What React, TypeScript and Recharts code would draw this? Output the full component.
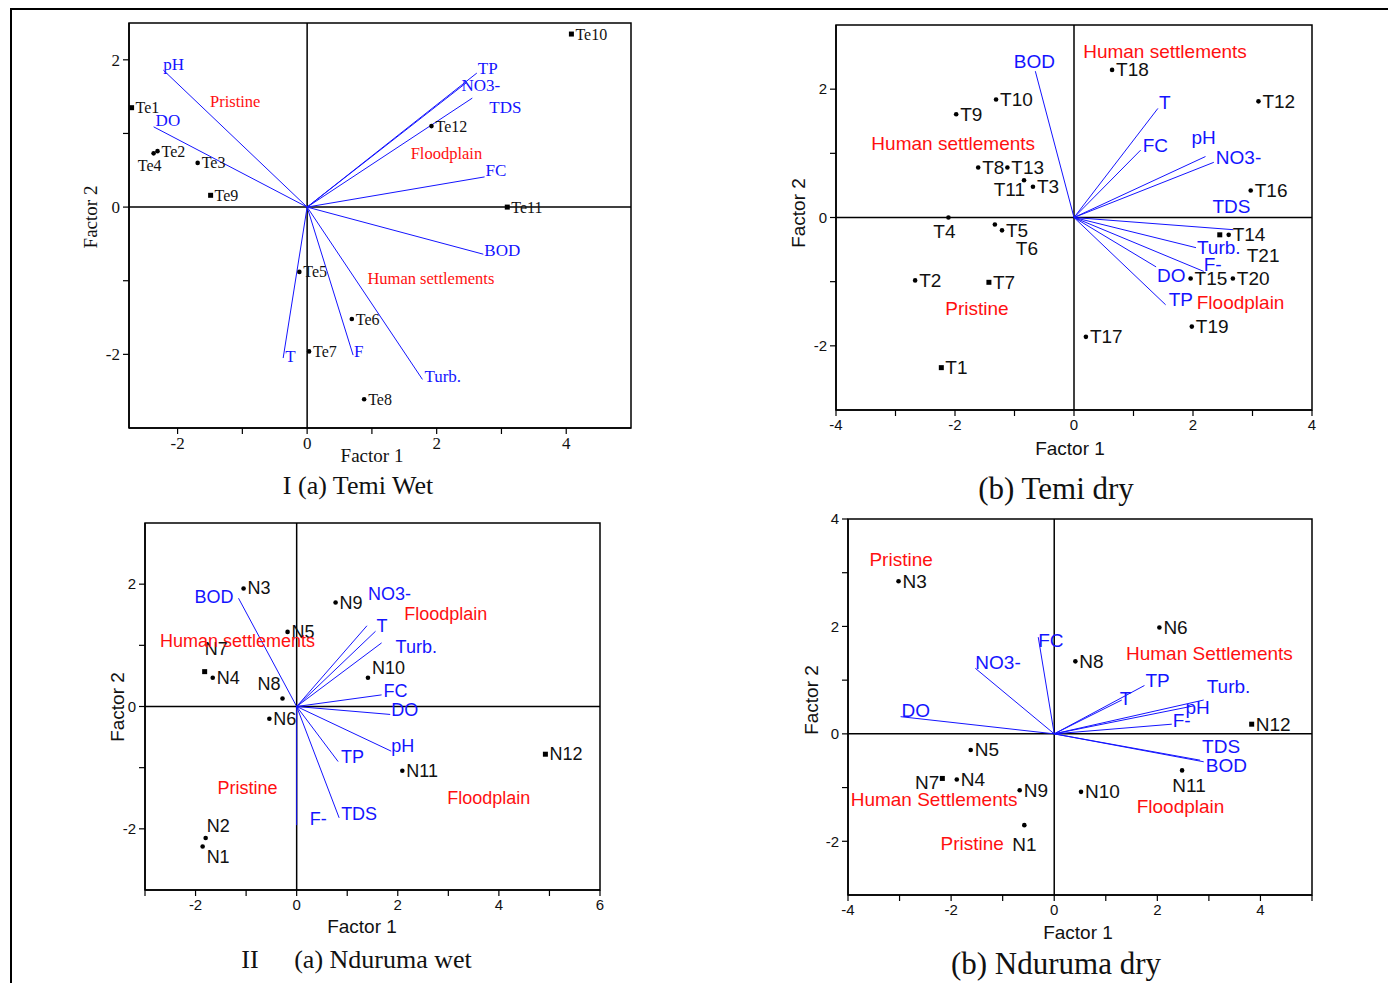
import React from 'react';
import { ScatterChart, Scatter, XAxis, YAxis, ReferenceLine, ReferenceArea } from 'recharts';

type Site = { name: string; x: number; y: number };

// ---------- I (a) Temi Wet ----------
const temiWetSites: Site[] = [
  { name: 'Te1', x: -2.71, y: 1.35 },
  { name: 'Te2', x: -2.31, y: 0.76 },
  { name: 'Te3', x: -1.69, y: 0.6 },
  { name: 'Te4', x: -2.37, y: 0.73 },
  { name: 'Te5', x: -0.12, y: -0.88 },
  { name: 'Te6', x: 0.69, y: -1.52 },
  { name: 'Te7', x: 0.03, y: -1.96 },
  { name: 'Te8', x: 0.88, y: -2.61 },
  { name: 'Te9', x: -1.49, y: 0.16 },
  { name: 'Te10', x: 4.08, y: 2.35 },
  { name: 'Te11', x: 3.09, y: 0.0 },
  { name: 'Te12', x: 1.92, y: 1.1 },
];
const temiWetVectors: Site[] = [
  { name: 'pH', x: -2.22, y: 1.86 },
  { name: 'DO', x: -2.37, y: 1.09 },
  { name: 'TP', x: 2.62, y: 1.82 },
  { name: 'NO3-', x: 2.46, y: 1.69 },
  { name: 'TDS', x: 2.55, y: 1.48 },
  { name: 'FC', x: 2.74, y: 0.41 },
  { name: 'BOD', x: 2.72, y: -0.64 },
  { name: 'Turb.', x: 1.78, y: -2.34 },
  { name: 'F', x: 0.71, y: -2.01 },
  { name: 'T', x: -0.37, y: -2.05 },
];
const temiWetGroups: Site[] = [
  { name: 'Pristine', x: -1.11, y: 1.44 },
  { name: 'Floodplain', x: 2.15, y: 0.73 },
  { name: 'Human settlements', x: 1.91, y: -0.97 },
];
const temiWetXTicks = [-2, -1, 0, 1, 2, 3, 4];
const temiWetYTicks = [-2, -1, 0, 1, 2];
const temiWetTopTicks = [-1.75, 1.74, 3.46];
const temiWetRightTicks = [1.35, -1.36, -2.72];

// ---------- I (b) Temi dry ----------
const temiDrySites: Site[] = [
  { name: 'T1', x: -2.23, y: -2.34 },
  { name: 'T2', x: -2.67, y: -0.98 },
  { name: 'T3', x: -0.69, y: 0.48 },
  { name: 'T4', x: -2.11, y: 0.0 },
  { name: 'T5', x: -1.21, y: -0.2 },
  { name: 'T6', x: -1.33, y: -0.11 },
  { name: 'T7', x: -1.43, y: -1.01 },
  { name: 'T8', x: -1.61, y: 0.78 },
  { name: 'T9', x: -1.98, y: 1.61 },
  { name: 'T10', x: -1.31, y: 1.84 },
  { name: 'T11', x: -0.84, y: 0.58 },
  { name: 'T12', x: 3.1, y: 1.81 },
  { name: 'T13', x: -1.12, y: 0.78 },
  { name: 'T14', x: 2.6, y: -0.27 },
  { name: 'T15', x: 1.96, y: -0.95 },
  { name: 'T16', x: 2.97, y: 0.42 },
  { name: 'T17', x: 0.2, y: -1.86 },
  { name: 'T18', x: 0.64, y: 2.3 },
  { name: 'T19', x: 1.98, y: -1.7 },
  { name: 'T20', x: 2.67, y: -0.95 },
  { name: 'T21', x: 2.45, y: -0.27 },
];
const temiDryVectors: Site[] = [
  { name: 'BOD', x: -0.65, y: 2.28 },
  { name: 'T', x: 1.41, y: 1.7 },
  { name: 'FC', x: 1.12, y: 1.05 },
  { name: 'pH', x: 2.21, y: 0.95 },
  { name: 'NO3-', x: 2.35, y: 0.86 },
  { name: 'TDS', x: 2.68, y: -0.19 },
  { name: 'Turb.', x: 2.05, y: -0.47 },
  { name: 'F-', x: 2.18, y: -0.84 },
  { name: 'DO', x: 1.38, y: -0.77 },
  { name: 'TP', x: 1.54, y: -1.36 },
];
const temiDryGroups: Site[] = [
  { name: 'Human settlements', x: 1.53, y: 2.59 },
  { name: 'Human settlements', x: -2.03, y: 1.16 },
  { name: 'Pristine', x: -1.63, y: -1.42 },
  { name: 'Floodplain', x: 2.8, y: -1.33 },
];
const temiDryXTicks = [-4, -3, -2, -1, 0, 1, 2, 3, 4];
const temiDryYTicks = [-2, -1, 0, 1, 2];
const temiDryTopTicks = [-2.94, 1.46, 2.94];
const temiDryRightTicks = [1.91, 0.94, -0.97, -1.91, -2.84];

// ---------- II (a) Nduruma wet ----------
const ndurumaWetSites: Site[] = [
  { name: 'N1', x: -1.86, y: -2.29 },
  { name: 'N2', x: -1.8, y: -2.15 },
  { name: 'N3', x: -1.05, y: 1.93 },
  { name: 'N4', x: -1.66, y: 0.47 },
  { name: 'N5', x: -0.18, y: 1.22 },
  { name: 'N6', x: -0.54, y: -0.2 },
  { name: 'N7', x: -1.82, y: 0.57 },
  { name: 'N8', x: -0.28, y: 0.13 },
  { name: 'N9', x: 0.77, y: 1.7 },
  { name: 'N10', x: 1.41, y: 0.47 },
  { name: 'N11', x: 2.09, y: -1.05 },
  { name: 'N12', x: 4.92, y: -0.78 },
];
const ndurumaWetVectors: Site[] = [
  { name: 'BOD', x: -1.15, y: 1.77 },
  { name: 'NO3-', x: 1.39, y: 1.32 },
  { name: 'T', x: 1.56, y: 1.23 },
  { name: 'Turb.', x: 1.68, y: 1.04 },
  { name: 'FC', x: 1.68, y: 0.19 },
  { name: 'DO', x: 1.85, y: -0.13 },
  { name: 'pH', x: 1.87, y: -0.73 },
  { name: 'TP', x: 0.82, y: -0.9 },
  { name: 'TDS', x: 0.84, y: -1.82 },
  { name: 'F-', x: 0.0, y: -1.94 },
];
const ndurumaWetGroups: Site[] = [
  { name: 'Floodplain', x: 2.95, y: 1.51 },
  { name: 'Human settlements', x: -1.17, y: 1.07 },
  { name: 'Pristine', x: -0.97, y: -1.33 },
  { name: 'Floodplain', x: 3.8, y: -1.49 },
];
const ndurumaWetXTicks = [-3, -2, -1, 0, 1, 2, 3, 4, 5, 6];
const ndurumaWetYTicks = [-2, -1, 0, 1, 2];
const ndurumaWetTopTicks = [-2.2];
const ndurumaWetRightTicks = [2, 1, -1, -2];

// ---------- II (b) Nduruma dry ----------
const ndurumaDrySites: Site[] = [
  { name: 'N1', x: -0.58, y: -1.7 },
  { name: 'N3', x: -3.02, y: 2.84 },
  { name: 'N4', x: -1.89, y: -0.85 },
  { name: 'N5', x: -1.62, y: -0.3 },
  { name: 'N6', x: 2.04, y: 1.98 },
  { name: 'N7', x: -2.17, y: -0.83 },
  { name: 'N8', x: 0.41, y: 1.35 },
  { name: 'N9', x: -0.67, y: -1.05 },
  { name: 'N10', x: 0.52, y: -1.08 },
  { name: 'N11', x: 2.48, y: -0.68 },
  { name: 'N12', x: 3.83, y: 0.18 },
];
const ndurumaDryVectors: Site[] = [
  { name: 'FC', x: -0.31, y: 1.8 },
  { name: 'NO3-', x: -1.53, y: 1.22 },
  { name: 'DO', x: -2.98, y: 0.32 },
  { name: 'TP', x: 1.75, y: 0.9 },
  { name: 'T', x: 1.31, y: 0.63 },
  { name: 'pH', x: 2.7, y: 0.52 },
  { name: 'Turb.', x: 2.9, y: 0.63 },
  { name: 'F-', x: 2.28, y: 0.18 },
  { name: 'TDS', x: 2.83, y: -0.49 },
  { name: 'BOD', x: 2.9, y: -0.52 },
];
const ndurumaDryGroups: Site[] = [
  { name: 'Pristine', x: -2.97, y: 3.25 },
  { name: 'Human Settlements', x: 3.01, y: 1.5 },
  { name: 'Human Settlements', x: -2.33, y: -1.23 },
  { name: 'Floodplain', x: 2.45, y: -1.35 },
  { name: 'Pristine', x: -1.59, y: -2.04 },
];
const ndurumaDryXTicks = [-4, -3, -2, -1, 0, 1, 2, 3, 4, 5];
const ndurumaDryYTicks = [-2, -1, 0, 1, 2, 3, 4];
const ndurumaDryTopTicks: number[] = [];
const ndurumaDryRightTicks = [3.5, 1.74, 0.84, -1.76, -2.64];

// ---------- label placement (pixel offsets, kept apart from the data) ----------
type Off = [number, number, 'start' | 'middle' | 'end'];
const twSiteOff: Record<string, Off> = { Te4: [-4, 12, 'middle'] };
const twVecOff: Record<string, Off> = {
  pH: [0, -6, 'start'], DO: [2, -6, 'start'], TP: [1, -5, 'start'], 'NO3-': [-5, 3, 'start'],
  TDS: [17, 9, 'start'], FC: [1, -6, 'start'], BOD: [1, -4, 'start'], 'Turb.': [2, -3, 'start'],
  F: [1, -4, 'start'], T: [2, -2, 'start'],
};
const tdSiteOff: Record<string, Off> = {
  T4: [-4, 14, 'middle'], T6: [21, 24, 'start'], T11: [1, 9, 'end'], T21: [27, 21, 'start'],
};
const tdVecOff: Record<string, Off> = {
  BOD: [-1, -10, 'middle'], T: [1, -6, 'start'], FC: [2, -5, 'start'], pH: [-14, -19, 'start'],
  'NO3-': [2, -5, 'start'], TDS: [-21, -23, 'start'], 'Turb.': [1, 0, 'start'], 'F-': [0, -7, 'start'],
  DO: [1, 9, 'start'], TP: [3, -5, 'start'],
};
const nwSiteOff: Record<string, Off> = {
  N2: [1, -12, 'start'], N1: [4, 10, 'start'], N8: [-2, -15, 'end'], N7: [0, -23, 'start'], N10: [4, -10, 'start'],
};
const nwVecOff: Record<string, Off> = {
  BOD: [-5, -1, 'end'], 'NO3-': [1, -32, 'start'], T: [1, -5, 'start'], 'Turb.': [14, 4, 'start'],
  FC: [2, -4, 'start'], DO: [1, -4, 'start'], pH: [0, -5, 'start'], TP: [3, -5, 'start'],
  TDS: [2, -4, 'start'], 'F-': [13, -6, 'start'],
};
const ndSiteOff: Record<string, Off> = {
  N7: [-3, 4, 'end'], N11: [7, 15, 'middle'], N1: [0, 19, 'middle'],
};
const ndVecOff: Record<string, Off> = {
  FC: [0, 3, 'start'], 'NO3-': [0, -6, 'start'], DO: [1, -6, 'start'], TP: [1, -5, 'start'],
  T: [-2, -2, 'start'], pH: [-8, 2, 'start'], 'Turb.': [3, -14, 'start'], 'F-': [1, -4, 'start'],
  TDS: [2, -14, 'start'], BOD: [2, 4, 'start'],
};
const squareMarkers = new Set(['Te1', 'Te9', 'Te10', 'Te11', 'T1', 'T7', 'T21', 'N7', 'N12']);

const SERIF = "'Liberation Serif', 'Times New Roman', serif";
const SANS = "'Liberation Sans', Arial, sans-serif";
const BLUE = '#1414ff';
const RED = '#ff1010';

type Cfg = {
  id: string;
  plot: { x: number; y: number; w: number; h: number };
  xDomain: [number, number];
  yDomain: [number, number];
  xTicks: number[];
  yTicks: number[];
  xLabels: number[];
  yLabels: number[];
  topTicks: number[];
  rightTicks: number[];
  sites: Site[];
  vectors: Site[];
  groups: Site[];
  family: string;
  tickFs: number;
  siteFs: number;
  vecFs: number;
  grpFs: number;
  siteOff: Record<string, Off>;
  vecOff: Record<string, Off>;
};

function Panel({ c }: { c: Cfg }) {
  const ML = 40, MT = 12, MR = 5, XH = 30;
  const W = ML + c.plot.w + MR;
  const H = MT + c.plot.h + XH;
  const tickStyle = { fontSize: c.tickFs, fill: '#111', fontFamily: c.family };
  const siteShape = (p: any) => {
    const { cx, cy, payload } = p;
    const o: Off = c.siteOff[payload.name] || [4, 0, 'start'];
    const sq = squareMarkers.has(payload.name);
    return (
      <g>
        {sq ? (
          <rect x={cx - 2.5} y={cy - 2.5} width={5} height={5} fill="#000" />
        ) : (
          <circle cx={cx} cy={cy} r={2.3} fill="#000" />
        )}
        <text
          x={cx + o[0]}
          y={cy + o[1]}
          textAnchor={o[2]}
          dominantBaseline="central"
          fontSize={c.siteFs}
          fontFamily={c.family}
          fill="#111"
        >
          {payload.name}
        </text>
      </g>
    );
  };
  const vecShape = (p: any) => {
    const { cx, cy, payload } = p;
    if (!payload.name) return <g />;
    const o: Off = c.vecOff[payload.name] || [2, -4, 'start'];
    return (
      <text
        x={cx + o[0]}
        y={cy + o[1]}
        textAnchor={o[2]}
        dominantBaseline="central"
        fontSize={c.vecFs}
        fontFamily={c.family}
        fill={BLUE}
      >
        {payload.name}
      </text>
    );
  };
  const grpShape = (p: any) => {
    const { cx, cy, payload } = p;
    return (
      <text
        x={cx}
        y={cy}
        textAnchor="middle"
        dominantBaseline="central"
        fontSize={c.grpFs}
        fontFamily={c.family}
        fill={RED}
      >
        {payload.name}
      </text>
    );
  };
  return (
    <div style={{ position: 'absolute', left: c.plot.x - ML, top: c.plot.y - MT }}>
      <ScatterChart width={W} height={H} margin={{ top: MT, right: MR, bottom: 0, left: 0 }}>
        <XAxis
          type="number"
          dataKey="x"
          domain={c.xDomain}
          ticks={c.xTicks}
          interval={0}
          height={XH}
          tickSize={6}
          tickMargin={3}
          tick={tickStyle}
          tickFormatter={(v: number) => (c.xLabels.includes(v) ? String(v) : '')}
          axisLine={{ stroke: '#000', strokeWidth: 1.5 }}
          tickLine={{ stroke: '#000', strokeWidth: 1.2 }}
        />
        <YAxis
          type="number"
          dataKey="y"
          domain={c.yDomain}
          ticks={c.yTicks}
          interval={0}
          width={ML}
          tickSize={6}
          tickMargin={3}
          tick={tickStyle}
          tickFormatter={(v: number) => (c.yLabels.includes(v) ? String(v) : '')}
          axisLine={{ stroke: '#000', strokeWidth: 1.5 }}
          tickLine={{ stroke: '#000', strokeWidth: 1.2 }}
        />
        <XAxis
          xAxisId="top"
          orientation="top"
          mirror
          type="number"
          domain={c.xDomain}
          ticks={c.topTicks}
          interval={0}
          height={0}
          tickSize={6}
          tick={false}
          axisLine={false}
          tickLine={{ stroke: '#000', strokeWidth: 1.2 }}
        />
        <YAxis
          yAxisId="right"
          orientation="right"
          mirror
          type="number"
          domain={c.yDomain}
          ticks={c.rightTicks}
          interval={0}
          width={0}
          tickSize={6}
          tick={false}
          axisLine={false}
          tickLine={{ stroke: '#000', strokeWidth: 1.2 }}
        />
        <ReferenceArea
          x1={c.xDomain[0]}
          x2={c.xDomain[1]}
          y1={c.yDomain[0]}
          y2={c.yDomain[1]}
          fill="none"
          fillOpacity={0}
          stroke="#000"
          strokeWidth={1.5}
        />
        <ReferenceLine x={0} stroke="#000" strokeWidth={1.5} />
        <ReferenceLine y={0} stroke="#000" strokeWidth={1.5} />
        {c.vectors.map((v, i) => (
          <Scatter
            key={c.id + 'v' + i}
            data={[{ x: 0, y: 0, name: '' }, v]}
            fill={BLUE}
            line={{ stroke: BLUE, strokeWidth: 1 }}
            shape={vecShape}
            isAnimationActive={false}
          />
        ))}
        <Scatter data={c.sites} fill="#000" shape={siteShape} isAnimationActive={false} />
        <Scatter data={c.groups} fill={RED} shape={grpShape} isAnimationActive={false} />
      </ScatterChart>
    </div>
  );
}

const panels: Cfg[] = [
  {
    id: 'tw', plot: { x: 129, y: 23, w: 502, h: 405 }, xDomain: [-2.75, 5], yDomain: [-3, 2.5],
    xTicks: temiWetXTicks, yTicks: temiWetYTicks, xLabels: [-2, 0, 2, 4], yLabels: [-2, 0, 2],
    topTicks: temiWetTopTicks, rightTicks: temiWetRightTicks,
    sites: temiWetSites, vectors: temiWetVectors, groups: temiWetGroups,
    family: SERIF, tickFs: 17, siteFs: 16, vecFs: 17, grpFs: 16.5,
    siteOff: twSiteOff, vecOff: twVecOff,
  },
  {
    id: 'td', plot: { x: 836, y: 25, w: 476, h: 385 }, xDomain: [-4, 4], yDomain: [-3, 3],
    xTicks: temiDryXTicks, yTicks: temiDryYTicks, xLabels: [-4, -2, 0, 2, 4], yLabels: [-2, 0, 2],
    topTicks: temiDryTopTicks, rightTicks: temiDryRightTicks,
    sites: temiDrySites, vectors: temiDryVectors, groups: temiDryGroups,
    family: SANS, tickFs: 15, siteFs: 19, vecFs: 19, grpFs: 19,
    siteOff: tdSiteOff, vecOff: tdVecOff,
  },
  {
    id: 'nw', plot: { x: 145, y: 523, w: 455, h: 367 }, xDomain: [-3, 6], yDomain: [-3, 3],
    xTicks: ndurumaWetXTicks, yTicks: ndurumaWetYTicks, xLabels: [-2, 0, 2, 4, 6], yLabels: [-2, 0, 2],
    topTicks: ndurumaWetTopTicks, rightTicks: ndurumaWetRightTicks,
    sites: ndurumaWetSites, vectors: ndurumaWetVectors, groups: ndurumaWetGroups,
    family: SANS, tickFs: 15, siteFs: 18, vecFs: 18, grpFs: 18,
    siteOff: nwSiteOff, vecOff: nwVecOff,
  },
  {
    id: 'nd', plot: { x: 848, y: 519, w: 464, h: 376 }, xDomain: [-4, 5], yDomain: [-3, 4],
    xTicks: ndurumaDryXTicks, yTicks: ndurumaDryYTicks, xLabels: [-4, -2, 0, 2, 4], yLabels: [-2, 0, 2, 4],
    topTicks: ndurumaDryTopTicks, rightTicks: ndurumaDryRightTicks,
    sites: ndurumaDrySites, vectors: ndurumaDryVectors, groups: ndurumaDryGroups,
    family: SANS, tickFs: 15, siteFs: 19, vecFs: 19, grpFs: 19,
    siteOff: ndSiteOff, vecOff: ndVecOff,
  },
];

function Txt({ x, y, size, family, rotate, children, color }: any) {
  return (
    <div
      style={{
        position: 'absolute',
        left: x,
        top: y,
        transform: `translate(-50%, -50%)${rotate ? ` rotate(${rotate}deg)` : ''}`,
        fontSize: size,
        fontFamily: family,
        color: color || '#111',
        whiteSpace: 'nowrap',
        lineHeight: 1,
      }}
    >
      {children}
    </div>
  );
}

export default function App() {
  return (
    <div style={{ position: 'absolute', left: 0, top: 0, width: 1388, height: 983, overflow: 'hidden', background: '#fff' }}>
      <style>{`body{margin:0;overflow:hidden;}`}</style>
      <div
        style={{
          position: 'absolute', left: 10, top: 8, width: 1420, height: 1020,
          borderLeft: '2px solid #000', borderTop: '2px solid #000',
        }}
      />
      {panels.map((p) => (
        <Panel key={p.id} c={p} />
      ))}
      <Txt x={90} y={217} size={19} family={SERIF} rotate={-90}>Factor 2</Txt>
      <Txt x={372} y={455} size={19} family={SERIF}>Factor 1</Txt>
      <Txt x={358} y={486} size={26} family={SERIF}>I (a) Temi Wet</Txt>

      <Txt x={798} y={213} size={19} family={SANS} rotate={-90}>Factor 2</Txt>
      <Txt x={1070} y={448} size={19} family={SANS}>Factor 1</Txt>
      <Txt x={1056} y={488} size={31} family={SERIF}>(b) Temi dry</Txt>

      <Txt x={117} y={707} size={19} family={SANS} rotate={-90}>Factor 2</Txt>
      <Txt x={362} y={926} size={19} family={SANS}>Factor 1</Txt>
      <Txt x={250} y={960} size={26} family={SERIF}>II</Txt>
      <Txt x={383} y={960} size={26} family={SERIF}>(a) Nduruma wet</Txt>

      <Txt x={811} y={700} size={19} family={SANS} rotate={-90}>Factor 2</Txt>
      <Txt x={1078} y={932} size={19} family={SANS}>Factor 1</Txt>
      <Txt x={1056} y={963} size={31} family={SERIF}>(b) Nduruma dry</Txt>
    </div>
  );
}
